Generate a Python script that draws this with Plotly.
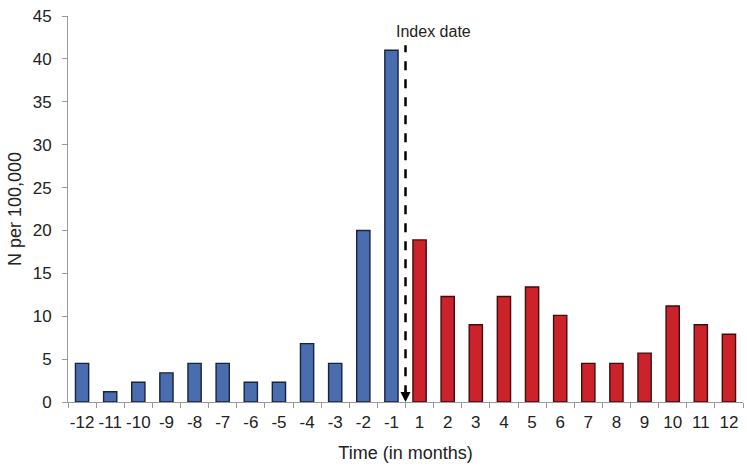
import plotly.graph_objects as go

# Data
months_before = ['-12', '-11', '-10', '-9', '-8', '-7', '-6', '-5', '-4', '-3', '-2', '-1']
values_before = [4.5, 1.2, 2.3, 3.4, 4.5, 4.5, 2.3, 2.3, 6.8, 4.5, 20.0, 41.0]
months_after = ['1', '2', '3', '4', '5', '6', '7', '8', '9', '10', '11', '12']
values_after = [18.9, 12.3, 9.0, 12.3, 13.4, 10.1, 4.5, 4.5, 5.7, 11.2, 9.0, 7.9]
y_ticks = [0, 5, 10, 15, 20, 25, 30, 35, 40, 45]

font = 'Liberation Sans, Arial, sans-serif'

fig = go.Figure()
fig.add_trace(go.Bar(
    x=months_before, y=values_before,
    marker=dict(color='#4a6db0', line=dict(color='#17233f', width=1.4))
))
fig.add_trace(go.Bar(
    x=months_after, y=values_after,
    marker=dict(color='#cc2229', line=dict(color='#3f0d10', width=1.4))
))

# Index date marker between -1 and 1
fig.add_shape(type='line', xref='x', yref='y', x0=11.5, x1=11.5, y0=0.9, y1=41.6,
              line=dict(color='black', width=2.5, dash='dash'))
fig.add_annotation(x=11.5, y=0, ax=11.5, ay=1.6, xref='x', yref='y', axref='x', ayref='y',
                   text='', showarrow=True, arrowhead=2, arrowsize=1, arrowwidth=2,
                   arrowcolor='black')
fig.add_annotation(x=11.08, y=42.0, xref='x', yref='y', text='Index date', showarrow=False,
                   xanchor='left', yanchor='bottom', font=dict(size=16, color='#222'))

fig.update_layout(
    width=747, height=467, showlegend=False, barmode='group',
    bargap=0.53, plot_bgcolor='white', paper_bgcolor='white',
    font=dict(family=font, size=17, color='#222'),
    margin=dict(l=68, r=4, t=16, b=65, autoexpand=False),
    xaxis=dict(
        title=dict(text='Time (in months)', standoff=14, font=dict(size=18)),
        type='category', categoryorder='array', categoryarray=months_before + months_after,
        tickson='boundaries', ticks='outside', ticklen=5, tickcolor='#999', tickangle=0,
        ticklabelstandoff=5,
        showline=True, linecolor='#999', linewidth=1, showgrid=False, automargin=False,
    ),
    yaxis=dict(
        title=dict(text='N per 100,000', standoff=6, font=dict(size=18)),
        range=[0, 45], tickvals=y_ticks, ticks='outside', ticklen=5, tickcolor='#999',
        ticklabelstandoff=7,
        showline=True, linecolor='#999', linewidth=1, showgrid=False, zeroline=False,
        automargin=False,
    ),
)

# drop the page's default body margin so the figure sits at the window's corner
fig.write_html('out.html', config={'displayModeBar': False},
               post_script="document.body.style.margin='0';")
